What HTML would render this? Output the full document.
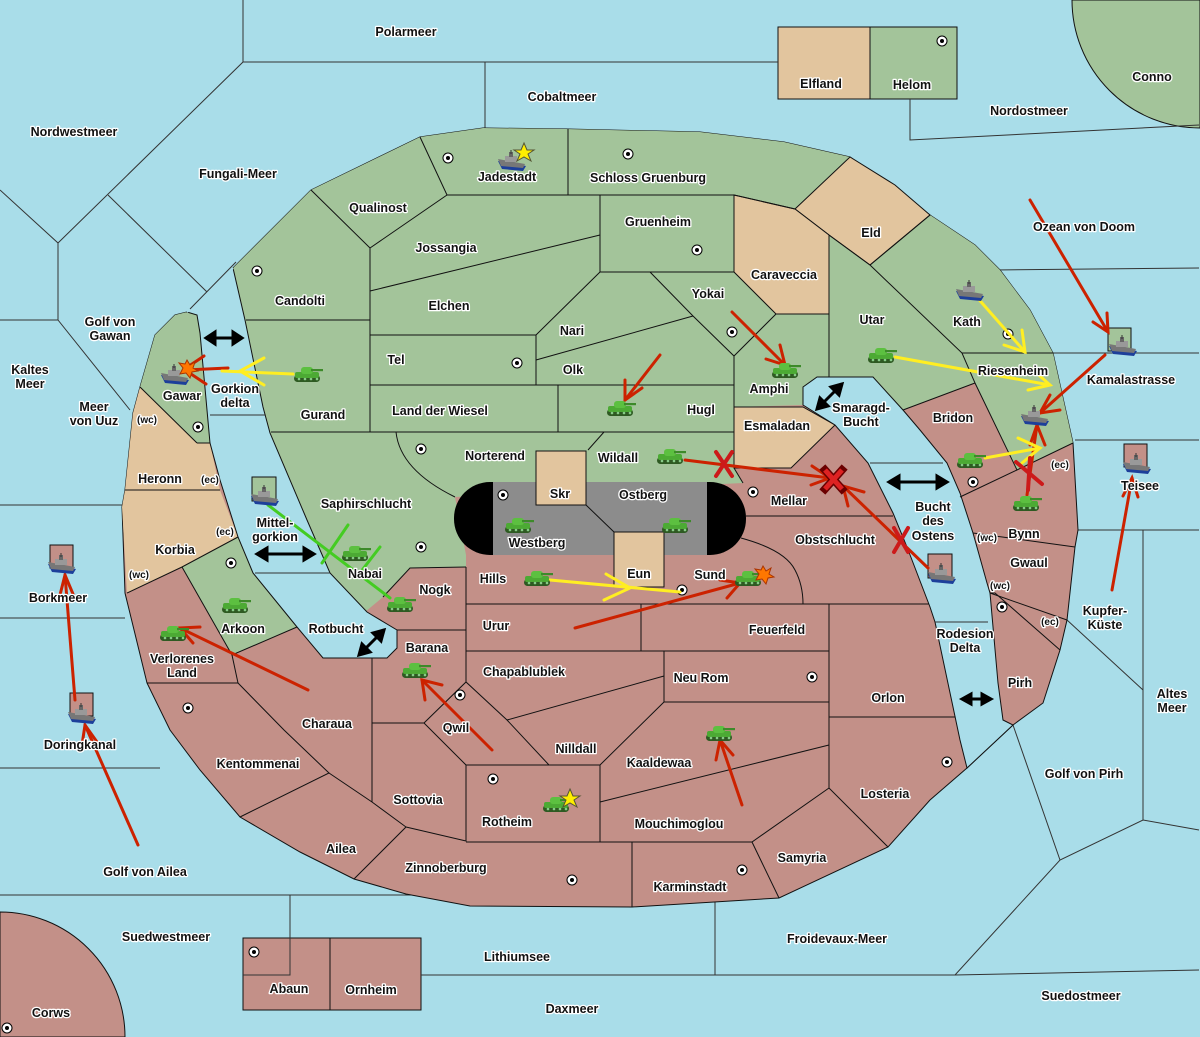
<!DOCTYPE html>
<html><head><meta charset="utf-8"><style>
html,body{margin:0;padding:0;background:#a9dde9;width:1200px;height:1037px;overflow:hidden}
svg{display:block}
text{font-family:"Liberation Sans","DejaVu Sans",sans-serif;font-weight:bold;font-size:12.5px;fill:#111;stroke:#fff;stroke-width:2.6px;paint-order:stroke;stroke-linejoin:round;text-anchor:middle}
.b{fill:none;stroke:#111;stroke-width:1}
.s{fill:none;stroke:#333;stroke-width:1}
</style></head><body>
<svg width="1200" height="1037" viewBox="0 0 1200 1037" xmlns="http://www.w3.org/2000/svg">
<defs>
<symbol id="tank" viewBox="0 0 32 20">
<rect x="2" y="11" width="26" height="7" rx="3.5" fill="#2e5a22"/>
<rect x="3" y="8" width="24" height="6" rx="2" fill="#4caa34"/>
<rect x="9" y="3" width="12" height="7" rx="3" fill="#5cc040"/>
<rect x="19" y="5" width="12" height="2.2" fill="#3d8a2a"/>
<circle cx="7" cy="15" r="1.3" fill="#8c8"/><circle cx="13" cy="15" r="1.3" fill="#8c8"/><circle cx="19" cy="15" r="1.3" fill="#8c8"/><circle cx="25" cy="15" r="1.3" fill="#8c8"/>
</symbol>
<symbol id="ship" viewBox="0 0 30 22">
<path d="M1 11 L29 16 L26 21 L5 19 Z" fill="#1d3f9a"/>
<path d="M1 9 L28 14 L26 18 L4 16 Z" fill="#777"/>
<rect x="8" y="6" width="12" height="6" fill="#999"/>
<rect x="12" y="2" width="4" height="5" fill="#666"/>
<line x1="14" y1="0" x2="14" y2="4" stroke="#333"/>
</symbol>
<symbol id="sc" viewBox="0 0 12 12"><circle cx="6" cy="6" r="5" fill="#fff" stroke="#000"/><circle cx="6" cy="6" r="2" fill="#000"/></symbol>
</defs>

<rect width="1200" height="1037" fill="#a9dde9"/>
<path d="M1072 0 A128 128 0 0 0 1200 128 L1200 0 Z" fill="#a3c49a" stroke="#111"/>
<path d="M0 912 A125 125 0 0 1 125 1037 L0 1037 Z" fill="#c39088" stroke="#111"/>
<rect x="778" y="27" width="92" height="72" fill="#e2c59e" stroke="#111"/>
<rect x="870" y="27" width="87" height="72" fill="#a3c49a" stroke="#111"/>
<rect x="243" y="938" width="87" height="72" fill="#c39088" stroke="#111"/>
<rect x="330" y="938" width="91" height="72" fill="#c39088" stroke="#111"/>

<g class="s">
<polyline points="243,0 243,62 58,243"/>
<polyline points="243,62 485,62 485,128"/>
<polyline points="485,62 778,62"/>
<polyline points="910,99 910,140 1199,125"/>
<polyline points="108,195 207,292"/>
<polyline points="0,190 58,243 58,320 130,410"/>
<polyline points="58,320 0,320"/>
<polyline points="0,505 122,505"/>
<polyline points="0,618 125,618"/>
<polyline points="0,768 160,768"/>
<polyline points="0,895 290,895 290,975 243,975"/>
<polyline points="290,895 715,895 715,975 421,975"/>
<polyline points="715,975 955,975 1060,860 1143,820 1199,830"/>
<polyline points="1013,725 1060,860"/>
<polyline points="995,270 1199,268"/>
<polyline points="1053,353 1199,353"/>
<polyline points="1075,440 1199,440"/>
<polyline points="1078,530 1143,530 1143,820"/>
<polyline points="1143,530 1199,530"/>
<polyline points="1067,620 1143,690"/>
<polyline points="955,975 1199,970"/>
</g>

<polygon fill="#c39088" stroke="#111" points="233,268 311,190 420,137 483,128 566,129 700,132 784,142 850,157 930,215 975,245 1000,270 1030,310 1053,353 1073,443 1078,530 1075,547 1067,620 1060,650 1043,703 1013,725 967,768 930,800 888,847 779,898 632,907 470,906 406,894 354,879 300,852 240,817 200,770 170,730 147,683 125,593 122,507 125,490 133,413 140,387 155,335 175,315 187,312"/>
<polygon fill="#a3c49a" points="233,268 311,190 420,137 483,128 566,129 700,132 784,142 850,157 930,215 975,245 1000,270 1030,310 1053,353 1073,443 1017,470 975,383 903,410 868,463 835,425 803,405 734,407 734,468 743,483 455,497 466,555 466,567 410,568 383,597 365,612 330,573 307,520 270,433 263,407 245,320"/>
<polygon fill="#a3c49a" points="140,387 155,335 175,315 187,312 197,315 200,333 210,443 197,443"/>
<polygon fill="#e2c59e" points="133,413 140,387 197,443 210,443 220,490 125,490"/>
<polygon fill="#e2c59e" points="125,490 220,490 238,537 182,567 127,593 122,507"/>
<polygon fill="#a3c49a" points="182,567 238,537 253,573 297,627 232,655"/>
<polygon fill="#e2c59e" stroke="#111" points="795,209 850,157 895,185 930,215 870,265 829,235"/>
<polygon fill="#e2c59e" stroke="#111" points="734,195 795,209 829,235 829,314 776,314 734,272"/>
<polygon fill="#e2c59e" stroke="#111" points="734,407 803,407 835,425 791,468 734,468"/>

<polygon fill="#a9dde9" stroke="#111" points="187,312 233,268 245,320 263,407 270,433 307,520 330,573 367,612 397,630 397,648 387,658 323,658 297,627 253,573 238,537 220,480 210,443 200,333 197,315"/>
<line x1="187" y1="312" x2="233" y2="268" stroke="#a9dde9" stroke-width="2"/>
<line x1="190" y1="309" x2="236" y2="262" stroke="#333" stroke-width="1"/>
<polygon fill="#a9dde9" stroke="#111" points="803,387 817,377 873,377 903,410 920,430 947,463 960,493 973,533 987,583 990,593 998,683 1003,720 1013,725 967,768 960,740 935,622 930,607 907,547 893,513 868,463 835,425 803,405"/>
<g class="s"><line x1="210" y1="415" x2="265" y2="415"/><line x1="255" y1="573" x2="330" y2="573"/><line x1="870" y1="463" x2="943" y2="463"/><line x1="935" y1="622" x2="988" y2="622"/></g>

<rect x="454" y="482" width="292" height="73" rx="36" fill="#000"/>
<rect x="493" y="482" width="214" height="73" fill="#8c8c8c"/>
<rect x="536" y="451" width="50" height="54" fill="#e2c59e" stroke="#111"/>
<rect x="614" y="532" width="50" height="55" fill="#e2c59e" stroke="#111"/>
<line class="b" x1="586" y1="505" x2="614" y2="532"/>

<g class="b">
<polyline points="420,137 447,195 568,195 568,129"/>
<polyline points="568,195 734,195 795,209"/>
<polyline points="311,190 370,248 447,195"/>
<polyline points="370,248 370,432"/>
<polyline points="246,320 370,320"/>
<line x1="600" y1="195" x2="600" y2="272"/>
<line x1="370" y1="291" x2="600" y2="235"/>
<polyline points="600,272 734,272 734,195"/>
<polyline points="600,272 536,335 370,335"/>
<polyline points="650,272 693,316 734,356 776,314"/>
<line x1="536" y1="360" x2="693" y2="316"/>
<line x1="536" y1="335" x2="536" y2="385"/>
<line x1="370" y1="385" x2="734" y2="385"/>
<polyline points="734,356 734,407"/>
<line x1="829" y1="314" x2="829" y2="377"/>
<line x1="558" y1="385" x2="558" y2="432"/>
<line x1="271" y1="432" x2="734" y2="432"/>
<path d="M396 432 Q400 470 455 497"/>
<polyline points="604,432 588,450"/>
<polyline points="870,265 930,215"/>
<polyline points="829,235 870,265 962,353 975,383 1017,470 1073,443"/>
<polyline points="962,353 1053,353"/>
<polyline points="903,410 975,383"/>
<polyline points="960,497 1017,470"/>
<line x1="973" y1="533" x2="1075" y2="547"/>
<line x1="990" y1="593" x2="1067" y2="620"/>
<polyline points="990,593 995,593 1060,650"/>
<line x1="197" y1="443" x2="210" y2="443"/>
<polyline points="140,387 197,443"/>
<line x1="125" y1="490" x2="220" y2="490"/>
<polyline points="127,593 182,567 238,537"/>
<polyline points="182,567 232,655 297,627"/>
<polyline points="232,655 238,683 147,683"/>
<polyline points="238,683 284,730 329,773 240,817"/>
<polyline points="329,773 372,802 406,827 354,879"/>
<polyline points="372,658 372,802"/>
<polyline points="372,723 424,723 466,765 466,841 406,827"/>
<polyline points="424,723 466,682 507,720 549,765 466,765"/>
<polyline points="397,630 466,630 466,567"/>
<line x1="466" y1="604" x2="466" y2="682"/>
<polyline points="383,597 410,568 466,567"/>
<line x1="466" y1="604" x2="929" y2="604"/>
<line x1="641" y1="604" x2="641" y2="651"/>
<line x1="829" y1="604" x2="829" y2="788"/>
<line x1="466" y1="651" x2="829" y2="651"/>
<polyline points="664,651 664,702 829,702"/>
<line x1="507" y1="720" x2="664" y2="676"/>
<polyline points="664,702 600,765 549,765"/>
<polyline points="600,765 600,842 466,842"/>
<line x1="600" y1="802" x2="829" y2="745"/>
<line x1="829" y1="717" x2="955" y2="717"/>
<polyline points="600,842 752,842 829,788 888,847"/>
<line x1="752" y1="842" x2="779" y2="898"/>
<line x1="632" y1="842" x2="632" y2="907"/>
<line x1="466" y1="842" x2="600" y2="842"/>
<path d="M741 538 Q785 550 795 570 Q803 585 803 604"/>
<line x1="746" y1="516" x2="893" y2="516"/>
<line x1="734" y1="468" x2="743" y2="483"/>
</g>

<g>
<use href="#sc" x="442" y="152" width="12" height="12"/><use href="#sc" x="622" y="148" width="12" height="12"/>
<use href="#sc" x="251" y="265" width="12" height="12"/><use href="#sc" x="691" y="244" width="12" height="12"/>
<use href="#sc" x="726" y="326" width="12" height="12"/><use href="#sc" x="1002" y="328" width="12" height="12"/>
<use href="#sc" x="511" y="357" width="12" height="12"/><use href="#sc" x="192" y="421" width="12" height="12"/>
<use href="#sc" x="415" y="443" width="12" height="12"/><use href="#sc" x="497" y="489" width="12" height="12"/>
<use href="#sc" x="747" y="486" width="12" height="12"/><use href="#sc" x="967" y="476" width="12" height="12"/>
<use href="#sc" x="415" y="541" width="12" height="12"/><use href="#sc" x="225" y="557" width="12" height="12"/>
<use href="#sc" x="676" y="584" width="12" height="12"/><use href="#sc" x="996" y="601" width="12" height="12"/>
<use href="#sc" x="454" y="689" width="12" height="12"/><use href="#sc" x="806" y="671" width="12" height="12"/>
<use href="#sc" x="182" y="702" width="12" height="12"/><use href="#sc" x="941" y="756" width="12" height="12"/>
<use href="#sc" x="487" y="773" width="12" height="12"/><use href="#sc" x="566" y="874" width="12" height="12"/>
<use href="#sc" x="736" y="864" width="12" height="12"/><use href="#sc" x="248" y="946" width="12" height="12"/>
<use href="#sc" x="936" y="35" width="12" height="12"/><use href="#sc" x="1" y="1022" width="12" height="12"/>
</g>

<rect x="1108" y="328" width="23" height="23" fill="#a3c49a" stroke="#111"/>
<rect x="1124" y="444" width="23" height="23" fill="#c39088" stroke="#111"/>
<rect x="50" y="545" width="23" height="23" fill="#c39088" stroke="#111"/>
<rect x="70" y="693" width="23" height="23" fill="#c39088" stroke="#111"/>
<rect x="252" y="477" width="24" height="24" fill="#a3c49a" stroke="#111"/>
<rect x="928" y="554" width="24" height="24" fill="#c39088" stroke="#111"/>

<g stroke="#000" stroke-width="3" fill="#000">
<line x1="213" y1="338" x2="235" y2="338"/><polygon points="206,338 215,332 215,344"/><polygon points="242,338 233,332 233,344"/>
<line x1="265" y1="554" x2="306" y2="554"/><polygon points="257,554 267,548 267,560"/><polygon points="314,554 304,548 304,560"/>
<line x1="897" y1="482" x2="939" y2="482"/><polygon points="889,482 899,476 899,488"/><polygon points="947,482 937,476 937,488"/>
<line x1="970" y1="699" x2="983" y2="699"/><polygon points="962,699 971,694 971,704"/><polygon points="991,699 982,694 982,704"/>
<line x1="364" y1="650" x2="379" y2="635"/><polygon points="359,655 362,644 370,652"/><polygon points="384,630 373,633 381,641"/>
<line x1="822" y1="404" x2="837" y2="389"/><polygon points="817,409 820,398 828,406"/><polygon points="842,384 831,387 839,395"/>
</g>

<g fill="none" stroke-width="3" stroke-linecap="round">
<g stroke="#cc2200">
<line x1="138" y1="845" x2="85" y2="725"/><polyline points="82,745 85,725 97,742"/>
<line x1="75" y1="700" x2="65" y2="575"/><polyline points="60,595 65,575 73,594"/>
<line x1="1030" y1="200" x2="1108" y2="332"/><polyline points="1093,322 1108,332 1107,313"/>
<line x1="1105" y1="355" x2="1040" y2="413"/><polyline points="1060,410 1040,413 1050,395"/>
<line x1="1112" y1="590" x2="1132" y2="478"/><polyline points="1123,496 1132,478 1138,497"/>
<line x1="1027" y1="495" x2="1037" y2="425"/><polyline points="1030,445 1037,425 1045,445"/>
<line x1="732" y1="312" x2="785" y2="365"/><polyline points="766,359 785,365 780,345"/>
<line x1="660" y1="355" x2="625" y2="400"/><polyline points="625,380 625,400 642,388"/>
<line x1="308" y1="690" x2="180" y2="628"/><polyline points="200,627 180,628 193,643"/>
<line x1="492" y1="750" x2="422" y2="680"/><polyline points="425,700 422,680 442,685"/>
<line x1="742" y1="805" x2="720" y2="740"/><polyline points="716,760 720,740 733,755"/>
<line x1="575" y1="628" x2="740" y2="583"/><polyline points="720,580 740,583 727,598"/>
<line x1="685" y1="460" x2="830" y2="478"/><polyline points="812,466 830,478 811,485"/>
<line x1="928" y1="568" x2="843" y2="486"/><polyline points="848,506 843,486 864,492"/>
<line x1="228" y1="368" x2="186" y2="370"/><line x1="204" y1="356" x2="186" y2="368"/><line x1="206" y1="384" x2="188" y2="372"/>
</g>
<g stroke="#ffee22">
<line x1="293" y1="374" x2="222" y2="371"/><polyline points="264,358 240,371 264,385"/>
<line x1="895" y1="357" x2="1050" y2="385"/><polyline points="1032,369 1050,385 1028,390"/>
<line x1="975" y1="295" x2="1025" y2="352"/><polyline points="1004,345 1025,352 1022,330"/>
<line x1="985" y1="458" x2="1040" y2="448"/><polyline points="1018,438 1040,448 1022,463"/>
<line x1="550" y1="580" x2="680" y2="592"/><polyline points="606,574 630,588 604,600"/>
</g>
<g stroke="#44cc22">
<line x1="268" y1="505" x2="390" y2="598"/>
<line x1="348" y1="525" x2="322" y2="563"/><line x1="380" y1="547" x2="356" y2="578"/>
</g>
</g>
<g stroke="#cc1a1a" stroke-width="4" stroke-linecap="round">
<line x1="716" y1="452" x2="732" y2="476"/><line x1="732" y1="452" x2="716" y2="476"/>
<line x1="894" y1="528" x2="908" y2="552"/><line x1="908" y1="528" x2="894" y2="552"/>
<line x1="1016" y1="462" x2="1042" y2="484"/><line x1="1030" y1="458" x2="1028" y2="490"/>
</g>
<g stroke="#6a0000" stroke-width="8" stroke-linecap="square"><line x1="825" y1="470" x2="842" y2="489"/><line x1="842" y1="470" x2="825" y2="489"/></g>
<g stroke="#dd2222" stroke-width="5"><line x1="825" y1="470" x2="842" y2="489"/><line x1="842" y1="470" x2="825" y2="489"/></g>

<g>
<use href="#tank" x="292" y="364" width="32" height="20"/><use href="#tank" x="605" y="398" width="32" height="20"/>
<use href="#tank" x="770" y="360" width="32" height="20"/><use href="#tank" x="866" y="345" width="32" height="20"/>
<use href="#tank" x="955" y="450" width="32" height="20"/><use href="#tank" x="1011" y="493" width="32" height="20"/>
<use href="#tank" x="655" y="446" width="32" height="20"/><use href="#tank" x="503" y="515" width="32" height="20"/>
<use href="#tank" x="660" y="515" width="32" height="20"/><use href="#tank" x="340" y="543" width="32" height="20"/>
<use href="#tank" x="385" y="594" width="32" height="20"/><use href="#tank" x="522" y="568" width="32" height="20"/>
<use href="#tank" x="733" y="568" width="32" height="20"/><use href="#tank" x="220" y="595" width="32" height="20"/>
<use href="#tank" x="158" y="623" width="32" height="20"/><use href="#tank" x="400" y="660" width="32" height="20"/>
<use href="#tank" x="541" y="794" width="32" height="20"/><use href="#tank" x="704" y="723" width="32" height="20"/>
<use href="#ship" x="497" y="150" width="30" height="22"/><use href="#ship" x="955" y="280" width="30" height="22"/>
<use href="#ship" x="160" y="364" width="30" height="22"/><use href="#ship" x="1020" y="405" width="30" height="22"/>
<use href="#ship" x="1108" y="335" width="30" height="22"/><use href="#ship" x="1122" y="453" width="30" height="22"/>
<use href="#ship" x="47" y="553" width="30" height="22"/><use href="#ship" x="67" y="703" width="30" height="22"/>
<use href="#ship" x="250" y="485" width="30" height="22"/><use href="#ship" x="927" y="563" width="30" height="22"/>
</g>
<polygon points="524,143 527,150 534,150 528,154 531,161 524,157 517,161 520,154 514,150 521,150" fill="#ffee00" stroke="#553"/>
<polygon points="570,789 573,796 580,796 574,800 577,807 570,803 563,807 566,800 560,796 567,796" fill="#ffee00" stroke="#553"/>
<polygon points="187,360 190,365 195,362 193,368 198,371 192,372 190,378 186,373 180,374 183,368 179,363 185,364" fill="#ff7700" stroke="#a30"/>
<polygon points="763,566 766,571 771,568 769,574 774,577 768,578 766,584 762,579 756,580 759,574 755,569 761,570" fill="#ff7700" stroke="#a30"/>

<g>
<text x="406" y="36">Polarmeer</text><text x="562" y="101">Cobaltmeer</text><text x="74" y="136">Nordwestmeer</text>
<text x="238" y="178">Fungali-Meer</text><text x="821" y="88">Elfland</text><text x="912" y="89">Helom</text>
<text x="1152" y="81">Conno</text><text x="1029" y="115">Nordostmeer</text><text x="507" y="181">Jadestadt</text>
<text x="648" y="182">Schloss Gruenburg</text><text x="378" y="212">Qualinost</text><text x="658" y="226">Gruenheim</text>
<text x="871" y="237">Eld</text><text x="1084" y="231">Ozean von Doom</text><text x="446" y="252">Jossangia</text>
<text x="784" y="279">Caraveccia</text><text x="300" y="305">Candolti</text><text x="708" y="298">Yokai</text>
<text x="449" y="310">Elchen</text><text x="872" y="324">Utar</text><text x="967" y="326">Kath</text>
<text x="110" y="326">Golf von</text><text x="110" y="340">Gawan</text><text x="572" y="335">Nari</text>
<text x="396" y="364">Tel</text><text x="573" y="374">Olk</text><text x="1013" y="375">Riesenheim</text>
<text x="30" y="374">Kaltes</text><text x="30" y="388">Meer</text><text x="1131" y="384">Kamalastrasse</text>
<text x="769" y="393">Amphi</text><text x="182" y="400">Gawar</text><text x="235" y="393">Gorkion</text><text x="235" y="407">delta</text>
<text x="94" y="411">Meer</text><text x="94" y="425">von Uuz</text><text x="323" y="419">Gurand</text>
<text x="440" y="415">Land der Wiesel</text><text x="701" y="414">Hugl</text><text x="861" y="412">Smaragd-</text><text x="861" y="426">Bucht</text>
<text x="953" y="422">Bridon</text><text x="147" y="423" style="font-size:10px">(wc)</text><text x="777" y="430">Esmaladan</text>
<text x="495" y="460">Norterend</text><text x="618" y="462">Wildall</text><text x="160" y="483">Heronn</text>
<text x="210" y="483" style="font-size:10px">(ec)</text><text x="1060" y="468" style="font-size:10px">(ec)</text><text x="1140" y="490">Teisee</text>
<text x="560" y="498">Skr</text><text x="643" y="499">Ostberg</text><text x="789" y="505">Mellar</text>
<text x="366" y="508">Saphirschlucht</text><text x="933" y="511">Bucht</text><text x="933" y="525">des</text><text x="933" y="540">Ostens</text>
<text x="275" y="527">Mittel-</text><text x="275" y="541">gorkion</text><text x="225" y="535" style="font-size:10px">(ec)</text>
<text x="1024" y="538">Bynn</text><text x="987" y="541" style="font-size:10px">(wc)</text><text x="835" y="544">Obstschlucht</text>
<text x="537" y="547">Westberg</text><text x="175" y="554">Korbia</text><text x="365" y="578">Nabai</text>
<text x="639" y="578">Eun</text><text x="139" y="578" style="font-size:10px">(wc)</text><text x="710" y="579">Sund</text>
<text x="1029" y="567">Gwaul</text><text x="493" y="583">Hills</text><text x="1000" y="589" style="font-size:10px">(wc)</text>
<text x="435" y="594">Nogk</text><text x="58" y="602">Borkmeer</text><text x="1105" y="615">Kupfer-</text><text x="1105" y="629">Küste</text>
<text x="496" y="630">Urur</text><text x="777" y="634">Feuerfeld</text><text x="243" y="633">Arkoon</text>
<text x="336" y="633">Rotbucht</text><text x="1050" y="625" style="font-size:10px">(ec)</text><text x="965" y="638">Rodesion</text><text x="965" y="652">Delta</text>
<text x="427" y="652">Barana</text><text x="182" y="663">Verlorenes</text><text x="182" y="677">Land</text>
<text x="524" y="676">Chapablublek</text><text x="701" y="682">Neu Rom</text><text x="1020" y="687">Pirh</text>
<text x="888" y="702">Orlon</text><text x="1172" y="698">Altes</text><text x="1172" y="712">Meer</text>
<text x="327" y="728">Charaua</text><text x="456" y="732">Qwil</text><text x="80" y="749">Doringkanal</text>
<text x="576" y="753">Nilldall</text><text x="659" y="767">Kaaldewaa</text><text x="258" y="768">Kentommenai</text>
<text x="1084" y="778">Golf von Pirh</text><text x="885" y="798">Losteria</text><text x="418" y="804">Sottovia</text>
<text x="507" y="826">Rotheim</text><text x="679" y="828">Mouchimoglou</text><text x="341" y="853">Ailea</text>
<text x="802" y="862">Samyria</text><text x="446" y="872">Zinnoberburg</text><text x="145" y="876">Golf von Ailea</text>
<text x="690" y="891">Karminstadt</text><text x="166" y="941">Suedwestmeer</text><text x="837" y="943">Froidevaux-Meer</text>
<text x="517" y="961">Lithiumsee</text><text x="289" y="993">Abaun</text><text x="371" y="994">Ornheim</text>
<text x="1081" y="1000">Suedostmeer</text><text x="572" y="1013">Daxmeer</text><text x="51" y="1017">Corws</text>
</g>
</svg>
</body></html>
